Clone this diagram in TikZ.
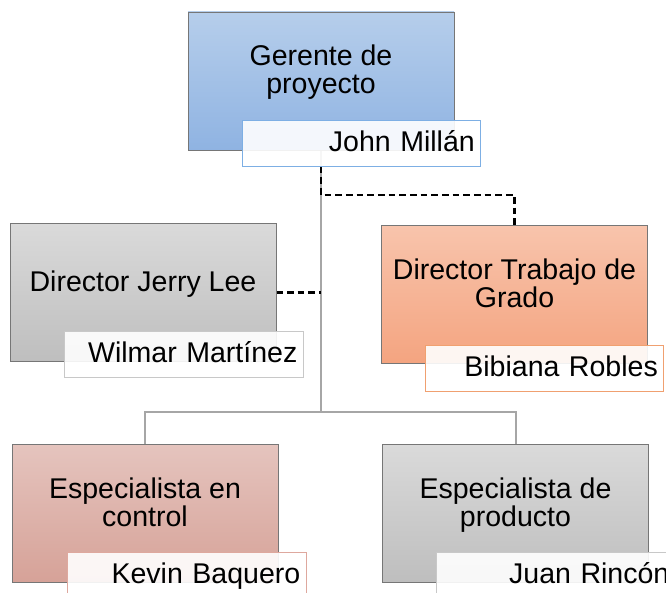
\documentclass[tikz,border=0pt]{standalone}
\usepackage{fontspec}
\setmainfont{Liberation Sans}
\definecolor{org_blue_top}{RGB}{182, 206, 235}
\definecolor{org_blue_bot}{RGB}{143, 179, 226}
\definecolor{org_blue_edge}{RGB}{125, 175, 228}
\definecolor{org_gray_top}{RGB}{218, 218, 218}
\definecolor{org_gray_bot}{RGB}{190, 190, 190}
\definecolor{org_gray_edge}{RGB}{200, 200, 200}
\definecolor{org_salmon_top}{RGB}{248, 196, 172}
\definecolor{org_salmon_bot}{RGB}{244, 164, 128}
\definecolor{org_salmon_edge}{RGB}{240, 160, 112}
\definecolor{org_rose_top}{RGB}{229, 196, 190}
\definecolor{org_rose_bot}{RGB}{214, 162, 152}
\definecolor{org_rose_edge}{RGB}{222, 168, 158}
\definecolor{org_edge}{RGB}{118, 118, 118}
\definecolor{org_line}{RGB}{166, 166, 166}
\usetikzlibrary{positioning, backgrounds, calc}

\begin{document}
\begin{tikzpicture}[x=0.75pt, y=-0.75pt,
    role/.style={draw=org_edge, line width=0.6pt, minimum width=199.5pt,
      minimum height=103.5pt, inner sep=0pt},
    roletext/.style={anchor=north, inner sep=0pt, align=center,
      font=\fontsize{21.4}{20.6}\selectfont},
    person/.style={line width=0.75pt, fill=white, fill opacity=0.9, text opacity=1,
      minimum height=34.5pt, text width=170pt, inner xsep=4.5pt, align=right,
      text height=15.4pt, text depth=3.2pt, font=\fontsize{21.4}{20.6}\selectfont},
    tree/.style={draw=org_line, line width=1.5pt},
    assist/.style={draw=black, line width=1.7pt, dash pattern=on 5pt off 3pt}]

  \useasboundingbox (0,0) rectangle (666,592);

  % --- Gerente ---
  \node[role, top color=org_blue_top, bottom color=org_blue_bot] (ger) at (321,81) {};
  \node[roletext] (ger_txt) at (321,45) {Gerente de\\proyecto};
  \node[person, draw=org_blue_edge] (ger_name) at (361.5,143) {John Millán};

  % --- Directores ---
  \node[role, top color=org_gray_top, bottom color=org_gray_bot] (dirj) at (143,292.5) {};
  \node[roletext] (dirj_txt) at (143,271) {Director Jerry Lee};
  \node[person, draw=org_gray_edge] (dirj_name) at (184,354) {Wilmar Martínez};

  \node[role, top color=org_salmon_top, bottom color=org_salmon_bot] (dirt) at (514.5,294.5) {};
  \node[roletext] (dirt_txt) at (514.5,259) {Director Trabajo de\\Grado};
  \node[person, draw=org_salmon_edge] (dirt_name) at (544.5,368) {Bibiana Robles};

  % --- Especialistas ---
  \node[role, top color=org_rose_top, bottom color=org_rose_bot] (espc) at (145,513) {};
  \node[roletext] (espc_txt) at (145,478) {Especialista en\\control};
  \node[person, draw=org_rose_edge] (espc_name) at (187,575) {Kevin Baquero};

  \node[role, top color=org_gray_top, bottom color=org_gray_bot] (espp) at (515.5,513) {};
  \node[roletext] (espp_txt) at (515.5,478) {Especialista de\\producto};
  \node[person, draw=org_gray_edge] (espp_name) at (556,575) {Juan Rincón};

  % --- Connectors ---
  \begin{scope}[on background layer]
    \coordinate (hub) at (321,412);
    \coordinate (bend) at (0,195);
    \draw[tree] (ger.south) -- (hub);
    \draw[tree] (hub) -| (espc.north);
    \draw[tree] (hub) -| (espp.north);

    \draw[assist] (ger_name.south -| ger.south) -- (ger.south |- bend) -| (dirt.north);
    \draw[assist] (dirj.east) -- (dirj.east -| ger.south);
  \end{scope}
\end{tikzpicture}
\end{document}
